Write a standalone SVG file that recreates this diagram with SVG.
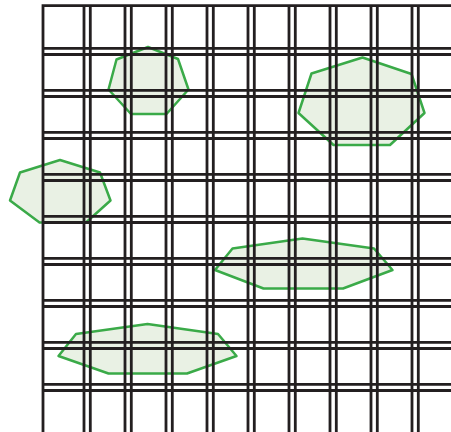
<svg xmlns="http://www.w3.org/2000/svg" width="451" height="432" viewBox="0 0 451 432">
<style>
.poly{fill:#e9f1e4;stroke:#3aaa48;stroke-width:2.5;stroke-linejoin:round}
.grid{stroke:#231f20;stroke-width:2.8;fill:none}
</style>
<rect width="451" height="432" fill="#ffffff"/>
<g id="shapes">
<g id="hept1"><polygon class="poly" points="148,47 178,59 188.5,89.5 166.5,114 131,114 108.5,89.5 116.5,59.5"/></g>
<g id="hept2"><polygon class="poly" points="362.5,57.5 411.5,74 424.5,113 390,145 333.5,145 298.5,113 311.5,73.5"/></g>
<g id="hept3"><polygon class="poly" points="60,160 100,172.5 110.5,200.5 86,222.5 39.5,222.5 10,200.5 20,172.5"/></g>
<g id="hept4"><polygon class="poly" points="302.5,238.5 374,248.5 392.5,270 343,288.5 263.5,288.5 215,270 232.5,248.5"/></g>
<g id="hept5"><polygon class="poly" points="147.5,324 218,334 236.5,356 187,373.5 108.5,373.5 58.5,356 76,334"/></g>
</g>
<g id="grid" class="grid">
<path d="M43,432 V5.7 H451"/>
<path d="M84,5.7V432M90.3,5.7V432M125,5.7V432M131.3,5.7V432M166,5.7V432M172.3,5.7V432M207,5.7V432M213.3,5.7V432M248,5.7V432M254.3,5.7V432M289,5.7V432M295.3,5.7V432M330,5.7V432M336.3,5.7V432M371,5.7V432M377.3,5.7V432M412,5.7V432M418.3,5.7V432"/>
<path d="M43,48.3H451M43,54.5H451M43,90.3H451M43,96.5H451M43,132.3H451M43,138.5H451M43,174.3H451M43,180.5H451M43,216.3H451M43,222.5H451M43,258.3H451M43,264.5H451M43,300.3H451M43,306.5H451M43,342.3H451M43,348.5H451M43,384.3H451M43,390.5H451"/>
</g>
</svg>
